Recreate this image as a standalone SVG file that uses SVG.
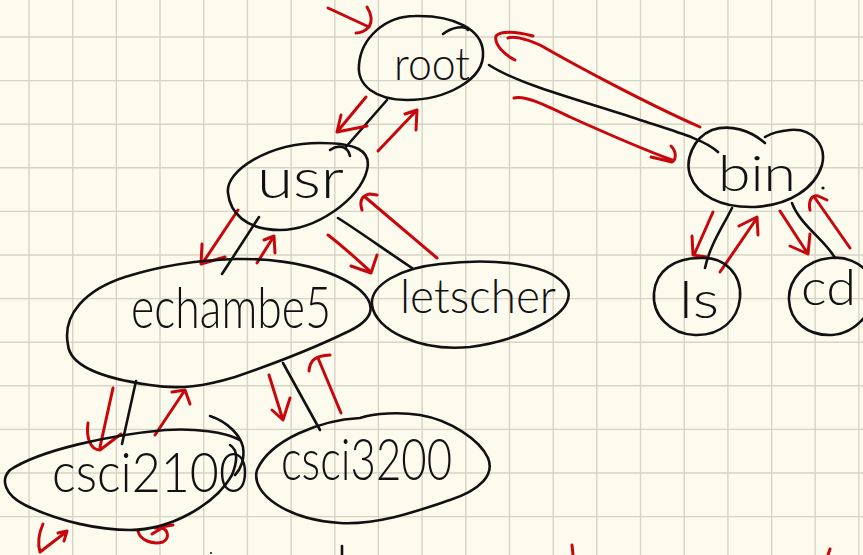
<svg xmlns="http://www.w3.org/2000/svg" width="863" height="555" viewBox="0 0 863 555">
  <style>
    .ink { fill: none; stroke: #111; stroke-width: 2.6; stroke-linecap: round; stroke-linejoin: round; }
    .pen { fill: none; stroke: #c8070c; stroke-width: 3; stroke-linecap: round; stroke-linejoin: round; }
    .grid { fill: none; stroke: #d6d4c4; stroke-width: 1.4; }
    .lbl { font-family: Lato, "Liberation Sans", sans-serif; font-weight: 300; fill: #111; text-anchor: start; }
  </style>

  <!-- paper -->
  <rect width="863" height="555" fill="#fdfbee"/>
  <path class="grid" d="M29 0V555M72.7 0V555M116.4 0V555M160 0V555M203.7 0V555M247.4 0V555M291.1 0V555M334.8 0V555M378.4 0V555M422.1 0V555M465.8 0V555M509.5 0V555M553.2 0V555M596.8 0V555M640.5 0V555M684.2 0V555M727.9 0V555M771.6 0V555M815.2 0V555M858.9 0V555M0 37H863M0 80.6H863M0 124.2H863M0 167.8H863M0 211.4H863M0 255H863M0 298.6H863M0 342.2H863M0 385.8H863M0 429.4H863M0 473H863M0 516.6H863"/>

  <!-- tree edges -->
  <g id="edges">
    <path class="ink" d="M387 100L345 148"/>
    <path class="ink" d="M259 217L222 274"/>
    <path class="ink" d="M338 218C360 232 385 250 412 268"/>
    <path class="ink" d="M489 65C520 85 580 100 640 120C680 133 705 140 718 152"/>
    <path class="ink" d="M732 208C722 228 710 245 705 268"/>
    <path class="ink" d="M792 203C800 225 825 240 835 258"/>
    <path class="ink" d="M136 381L122 444"/>
    <path class="ink" d="M283 363L320 430"/>
  </g>

  <!-- traversal arrows -->
  <g id="traversal">
    <path class="pen" d="M328 8L369 27M367 7C372 15 372 22 369 27C365 31 360 33 356 33"/>
    <path class="pen" d="M366 97L337 132M341 115L337 132L367 126"/>
    <path class="pen" d="M378 151L416 111M405 114L417 110L416 130"/>
    <path class="pen" d="M238 210L202 264M202 244L201 264L225 257"/>
    <path class="pen" d="M257 263L274 236M264 240L274 236L275 253"/>
    <path class="pen" d="M328 235C345 248 360 262 371 272M351 266L371 273L377 255"/>
    <path class="pen" d="M437 258L365 197M362 210C359 201 362 195 370 194L377 195"/>
    <path class="pen" d="M514 98C525 95 545 105 570 117C610 135 645 150 672 160M671 146C677 152 676 160 672 162L651 157"/>
    <path class="pen" d="M700 127C650 105 580 68 540 45C525 38 512 36 508 38M533 36C515 31 500 31 496 36C494 45 505 55 515 60"/>
    <path class="pen" d="M713 212L694 255M692 236L693 255L707 257"/>
    <path class="pen" d="M720 272L757 218M739 226L757 217L758 235"/>
    <path class="pen" d="M780 211L808 254M790 246L808 254L810 234"/>
    <path class="pen" d="M850 248L815 198M810 210C808 200 812 195 818 196L827 200"/>
    <path class="pen" d="M113 388L100 447M88 423C86 437 90 450 100 450L121 434"/>
    <path class="pen" d="M155 435L185 390M172 392L185 390L190 404"/>
    <path class="pen" d="M269 375L283 420M272 410L283 420L290 398"/>
    <path class="pen" d="M341 413L318 358M309 371C310 360 315 356 330 355"/>
    <path class="pen" d="M43 524C38 535 38 545 40 552L66 532M58 533L67 531L64 541"/>
    <path class="pen" d="M138 531C140 540 152 545 163 542C170 538 168 530 162 528L152 534M155 528L173 525"/>
    <path class="pen" d="M572 545L573 555M830 549L828 555"/>
    <path class="ink" d="M342 546L342 555"/>
    <circle cx="211" cy="553" r="1" fill="#111"/>
  </g>

  <g id="root">
    <path class="ink" d="M483 52C485 80 445 100 407 100C375 100 357 85 359 65C361 38 385 16 415 16C455 15 482 30 483 52Z"/>
    <path class="ink" d="M443 34C452 27 465 25 468 30"/>
    <text class="lbl" x="394" y="80" font-size="46" textLength="76" lengthAdjust="spacingAndGlyphs">root</text>
  </g>

  <g id="usr">
    <path class="ink" d="M228 193C225 170 270 143 320 143C355 143 372 150 367 170C360 200 315 230 280 230C245 230 230 212 228 193Z"/>
    <path class="ink" d="M330 150C338 144 348 146 350 156"/>
    <text class="lbl" x="257" y="198" font-size="56" textLength="87" lengthAdjust="spacingAndGlyphs">usr</text>
  </g>

  <g id="echambe5">
    <path class="ink" d="M68 345C62 315 85 290 125 277C160 266 200 260 235 259C290 258 335 270 360 290C380 308 370 322 345 333C310 350 270 365 235 377C205 386 180 390 150 385C100 378 70 365 68 345Z"/>
    <text class="lbl" x="131" y="328" font-size="58" textLength="200" lengthAdjust="spacingAndGlyphs">echambe5</text>
  </g>

  <g id="letscher">
    <path class="ink" d="M372 305C370 285 400 268 440 264C490 258 555 262 568 290C575 315 520 340 470 347C420 352 375 330 372 305Z"/>
    <text class="lbl" x="400" y="313" font-size="48" textLength="156" lengthAdjust="spacingAndGlyphs">letscher</text>
  </g>

  <g id="bin">
    <path class="ink" d="M765 143C750 130 730 124 712 130C693 138 685 160 690 175C697 195 720 208 755 207C790 205 815 188 822 165C827 145 812 128 790 130C778 131 770 134 765 137"/>
    <circle cx="823" cy="188" r="1.6" fill="#111"/>
    <text class="lbl" x="718" y="191" font-size="50" textLength="78" lengthAdjust="spacingAndGlyphs">bin</text>
  </g>

  <g id="ls">
    <path class="ink" d="M700 258C725 256 742 275 740 298C738 320 720 336 695 335C670 334 652 315 654 293C656 270 675 258 700 258Z"/>
    <text class="lbl" x="679" y="318" font-size="52" textLength="40" lengthAdjust="spacingAndGlyphs">ls</text>
  </g>

  <g id="cd">
    <path class="ink" d="M870 275C860 262 845 256 830 258C805 260 788 280 789 300C790 322 808 336 832 335C850 334 862 322 870 310"/>
    <text class="lbl" x="801" y="305" font-size="50" textLength="55" lengthAdjust="spacingAndGlyphs">cd</text>
  </g>

  <g id="csci2100">
    <path class="ink" d="M240 440C225 432 195 428 165 430C110 435 40 450 10 470C0 480 5 495 25 505C60 522 100 530 130 530C170 530 215 505 232 475C238 460 238 450 230 445"/>
    <path class="ink" d="M210 416C228 422 240 435 243 447C245 460 240 470 235 475"/>
    <text class="lbl" x="52" y="492" font-size="56" textLength="196" lengthAdjust="spacingAndGlyphs">csci2100</text>
  </g>

  <g id="csci3200">
    <path class="ink" d="M360 418C320 420 270 440 257 470C250 495 290 520 340 523C380 525 420 510 450 500C480 490 495 475 488 458C480 440 450 420 420 415C400 412 375 413 360 418Z"/>
    <text class="lbl" x="281" y="480" font-size="58" textLength="171" lengthAdjust="spacingAndGlyphs">csci3200</text>
  </g>
</svg>
